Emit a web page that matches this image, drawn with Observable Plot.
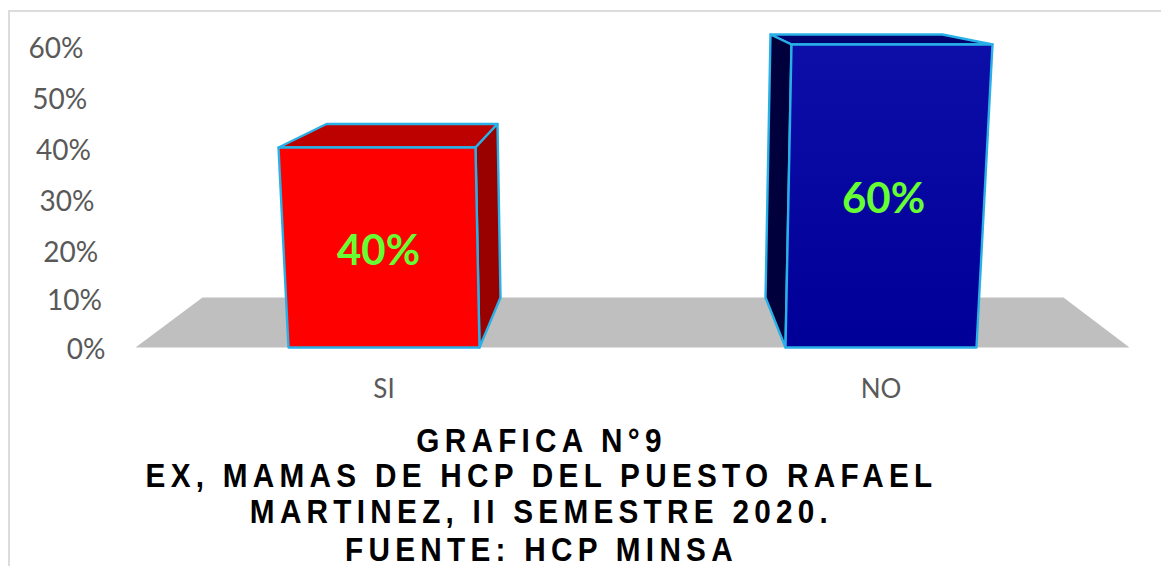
<!DOCTYPE html>
<html><head><meta charset="utf-8">
<script src="https://cdn.jsdelivr.net/npm/d3@7"></script>
<script src="https://cdn.jsdelivr.net/npm/@observablehq/plot@0.6"></script>
<style>
html,body{margin:0;padding:0;background:#fff;overflow:hidden;width:1161px;height:566px}
#frame{position:absolute;left:8px;top:10px;right:0;bottom:0;border-left:2px solid #dcdcdc;border-top:2px solid #dcdcdc}
#chart{position:absolute;left:0;top:0}
#chart svg{display:block}
.t{position:absolute;left:0;width:1083px;text-align:center;font:bold 33px "Liberation Sans",Arial,sans-serif;color:#000;letter-spacing:5.87px;white-space:nowrap;transform:scaleX(.9);line-height:36px;height:36px}
</style></head><body>
<div id="frame"></div><div id="chart"></div><div id="titles"></div>
<script>
const categories = ["SI", "NO"];
const percentages = [40, 60];
const yTicks = [0, 10, 20, 30, 40, 50, 60];
const yTickShift = [0.54, 0.8, 1.14, 1.0, 0.8, 0.54, 0.34];
const titleLines = ["GRAFICA N°9", "EX, MAMAS DE HCP DEL PUESTO RAFAEL", "MARTINEZ, II SEMESTRE 2020.", "FUENTE: HCP MINSA"];
const titleCenters = [441, 476, 512, 550];

// scale factors of the extrusion drawing, in px per scale unit
const PX_X = 497, PX_Y = 5;
const u = px => px / PX_X;

// 3D extrusion shape of each box: [x offset from the category centre, y offset in % (from "top" or from the floor)]
const shapes = [
  { // SI: depth goes to the right
    faces: [
      {fill: "#bd0000", pts: [[-105.5,"t",0],[-57.5,"t",4.7],[113.5,"t",4.7],[91.5,"t",0]]},
      {fill: "#990000", pts: [[91.5,"t",0],[113.5,"t",4.7],[116.5,"b",10],[95.5,"b",0]]},
      {fill: "#ff0000", pts: [[-95.5,"b",0],[95.5,"b",0],[91.5,"t",0],[-105.5,"t",0]]}
    ], labelDx: -5.5, labelDy: -0.8
  },
  { // NO: depth goes to the left
    faces: [
      {fill: "#00006e", pts: [[-110.5,"t",2.6],[61.5,"t",2.6],[111.5,"t",0.6],[-89.5,"t",0.6]]},
      {fill: "#00003c", pts: [[-110.5,"t",2.6],[-89.5,"t",0.6],[-95.5,"b",0],[-115.5,"b",10]]},
      {fill: "url(#blueFront)", pts: [[-95.5,"b",0],[95.5,"b",0],[111.5,"t",0.6],[-89.5,"t",0.6]]}
    ], labelDx: 2.5, labelDy: -0.4
  }
];

const faceMarks = [];
shapes.forEach((s, i) => s.faces.forEach(f => {
  const data = f.pts.map(([dx, from, dy]) => ({
    x: i + u(dx),
    y: (from === "t" ? percentages[i] : 0) + dy
  }));
  faceMarks.push(Plot.line(data, {
    x: "x", y: "y", curve: "linear-closed", fill: f.fill,
    stroke: "#29b0e6", strokeWidth: 2.4, strokeLinejoin: "round"
  }));
}));

const floor = [
  {x: -0.5, y: 0}, {x: 1.5, y: 0},
  {x: 1.5 - u(66), y: 10}, {x: -0.5 + u(67), y: 10}
];

const defs = () => {
  const d = d3.create("svg:defs");
  const g = d.append("linearGradient").attr("id", "blueFront")
    .attr("x1", 0).attr("y1", 0).attr("x2", 0).attr("y2", 1);
  g.append("stop").attr("offset", 0).attr("stop-color", "#0d0da8");
  g.append("stop").attr("offset", 1).attr("stop-color", "#000098");
  return d.node();
};

const font = "Lato, Carlito, sans-serif";
const plot = Plot.plot({
  width: 1161, height: 420,
  marginLeft: 135, marginRight: 32, marginTop: 47, marginBottom: 73,
  style: {background: "transparent", overflow: "visible"},
  x: {type: "linear", domain: [-0.5, 1.5], axis: null},
  y: {domain: [0, 60], axis: null},
  marks: [
    defs,
    Plot.line(floor, {x: "x", y: "y", curve: "linear-closed", fill: "#bfbfbf", stroke: "none"}),
    ...faceMarks,
    Plot.text(percentages, {
      x: (d, i) => i + u(shapes[i].labelDx), y: (d, i) => d / 2 + shapes[i].labelDy,
      text: d => d + "%", fill: "#66ff33", fontSize: 42, fontWeight: 700, fontFamily: font
    }),
    Plot.text(yTicks, {
      x: d => -0.5 + u(-30 - 22 * d / 60), y: (d, i) => d - yTickShift[i], text: d => d + "%",
      textAnchor: "end", fill: "#595959", fontSize: 28, fontFamily: font
    }),
    Plot.axisX({
      ticks: [0, 1], tickFormat: i => categories[i], tickSize: 0, tickPadding: 32,
      fill: "#595959", fontSize: 26, fontFamily: font, label: null
    })
  ]
});
document.getElementById("chart").append(plot);
const tt = document.getElementById("titles");
titleLines.forEach((line, i) => {
  const el = document.createElement("div");
  el.className = "t";
  el.textContent = line;
  el.style.top = (titleCenters[i] - 18) + "px";
  tt.append(el);
});
</script></body></html>
